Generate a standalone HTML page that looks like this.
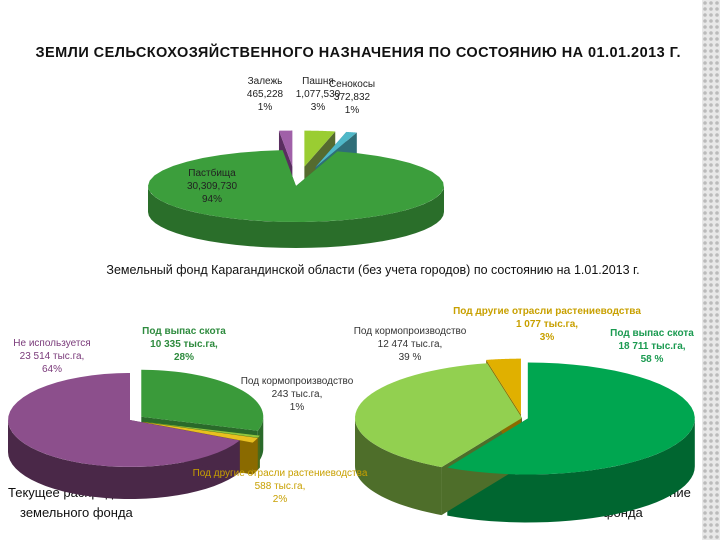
<!DOCTYPE html>
<html><head><meta charset="utf-8"><style>
html,body{margin:0;padding:0;background:#fff}
svg{display:block;font-family:"Liberation Sans Narrow","Liberation Sans",sans-serif}
</style></head><body>
<svg id="c" width="720" height="540" viewBox="0 0 720 540">
<rect x="0" y="0" width="720" height="540" fill="#fff"/>
<defs><pattern id="dots" width="6" height="6" patternUnits="userSpaceOnUse"><rect width="6" height="6" fill="#e8e8e8"/><circle cx="3" cy="3" r="1.8" fill="#bbb"/></pattern></defs>
<rect x="702" y="0" width="18" height="540" fill="url(#dots)"/>
<text x="358" y="57" text-anchor="middle" font-size="14.5" font-weight="bold" fill="#111" font-family="Liberation Sans, sans-serif" textLength="645">ЗЕМЛИ СЕЛЬСКОХОЗЯЙСТВЕННОГО НАЗНАЧЕНИЯ ПО СОСТОЯНИЮ НА 01.01.2013 Г.</text>
<text x="373" y="274" text-anchor="middle" font-size="12.5" fill="#111">Земельный фонд Карагандинской области (без учета городов)  по состоянию на 1.01.2013 г.</text>
<g font-size="13" fill="#111"><text x="8" y="497">Текущее распределение</text><text x="20" y="517">земельного фонда</text></g>
<g font-size="13" fill="#111"><text x="502" y="497">Перспективное распределение</text><text x="530" y="517">земельного фонда</text></g>
<g id="pies"></g>
<g id="labels" font-size="10"></g>
</svg>
<script>
// Top chart
const topCats=["Пашня","Сенокосы","Пастбища","Залежь"];
const topVals=[1077530,372832,30309730,465228];
const topValTxt=["1,077,530","372,832","30,309,730","465,228"];
const topPct=["3%","1%","94%","1%"];
// Bottom-left chart
const leftCats=["Под выпас скота","Под кормопроизводство","Под другие отрасли растениеводства","Не используется"];
const leftVals=[10335,243,588,23514];
const leftPct=["28%","1%","2%","64%"];
// Bottom-right chart
const rightCats=["Под выпас скота","Под кормопроизводство","Под другие отрасли растениеводства"];
const rightVals=[18711,12474,1077];
const rightPct=["58 %","39 %","3%"];

const NS="http://www.w3.org/2000/svg";
const pies=document.getElementById('pies');
function el(t,a,p){const e=document.createElementNS(NS,t);for(const k in a)e.setAttribute(k,a[k]);(p||pies).appendChild(e);return e;}
function pt(cx,cy,rx,ry,a){return [cx+rx*Math.sin(a),cy-ry*Math.cos(a)];}
function pie3d(name,cx,cy,rx,ry,depth,vals,tops,sides,expl){
  const tot=vals.reduce((a,b)=>a+b,0);let a0=0;const sl=[];
  vals.forEach((v,i)=>{const a1=a0+v/tot*2*Math.PI;sl.push([a0,a1]);a0=a1;});
  const g=el('g',{});
  
  
  sl.forEach(([s,e],i)=>{
    const m=(s+e)/2,d=expl[i]||0,ox=d*Math.sin(m),oy=-d*Math.cos(m)*ry/rx;
    const X=cx+ox,Y=cy+oy;
    const lo=Math.max(s,Math.PI/2),hi=Math.min(e,3*Math.PI/2);
    let pts=[];
    if(hi>lo){
      for(let k=0;k<=30;k++){const p=pt(X,Y,rx,ry,lo+(hi-lo)*k/30);pts.push(p);}
      const poly=pts.concat(pts.slice().reverse().map(p=>[p[0],p[1]+depth]));
      const e2=el('polygon',{points:poly.map(p=>p.join(',')).join(' '),fill:sides[i]},g);
      
      
    }
    [s,e].forEach(a=>{const p=pt(X,Y,rx,ry,a);
      const f=el('polygon',{points:[[X,Y],p,[p[0],p[1]+depth],[X,Y+depth]].map(q=>q.join(',')).join(' '),fill:sides[i]},g);
      
      });
  });
  sl.forEach(([s,e],i)=>{
    const m=(s+e)/2,d=expl[i]||0,X=cx+d*Math.sin(m),Y=cy-d*Math.cos(m)*ry/rx;
    let dstr=`M${X},${Y}`;
    for(let k=0;k<=40;k++){const p=pt(X,Y,rx,ry,s+(e-s)*k/40);dstr+=`L${p[0]},${p[1]}`;}
    const t=el('path',{d:dstr+'Z',fill:tops[i]},g);
    
    
  });
}
pie3d('top-pie',296,186,148,36,26,topVals,['#9acd32','#4fb8c8','#3c9e3c','#a060a8'],['#556b2f','#2f6e78','#2a6e2a','#5a2e60'],[80,80,0,80]);
pie3d('left-pie',130,420,122,47,32,leftVals,['#3a9a3a','#8ec63f','#e8c020','#8c4f8c'],['#2a6a2a','#4a6a1a','#8a6a00','#4a2848'],[14,14,14,0]);
pie3d('right-pie',522,418,167,56,48,rightVals,['#00a650','#92d050','#e0b000'],['#006630','#4e6e2a','#8a6a00'],[6,0,10]);

const L=document.getElementById('labels');
function lab(name,x,y,lines,color,bold){const t=el('text',{x:x,y:y,'text-anchor':'middle',fill:color,'font-weight':bold?'bold':'normal'},L);
 
 
 lines.forEach((s,i)=>{const ts=el('tspan',{x:x,dy:i?13:0},t);ts.textContent=s;});}
lab('label-zalezh',265,84,[topCats[3],topValTxt[3],topPct[3]],'#222');
lab('label-pashnya',318,84,[topCats[0],topValTxt[0],topPct[0]],'#222');
lab('label-senokosy',352,87,[topCats[1],topValTxt[1],topPct[1]],'#222');
lab('label-pastbishcha',212,176,[topCats[2],topValTxt[2],topPct[2]],'#222');
lab('label-left-unused',52,346,[leftCats[3],'23 514 тыс.га,',leftPct[3]],'#7a3a7a');
lab('label-left-pasture',184,334,[leftCats[0],'10 335 тыс.га,',leftPct[0]],'#2e8b3e',true);
lab('label-left-feed',297,384,[leftCats[1],'243 тыс.га,',leftPct[1]],'#333');
lab('label-left-other',280,476,[leftCats[2],'588 тыс.га,',leftPct[2]],'#c8a000');
lab('label-right-feed',410,334,[rightCats[1],'12 474 тыс.га,',rightPct[1]],'#333');
lab('label-right-other',547,314,[rightCats[2],'1 077 тыс.га,',rightPct[2]],'#c8a000',true);
lab('label-right-pasture',652,336,[rightCats[0],'18 711 тыс.га,',rightPct[0]],'#1a9a50',true);
</script>
</body></html>
